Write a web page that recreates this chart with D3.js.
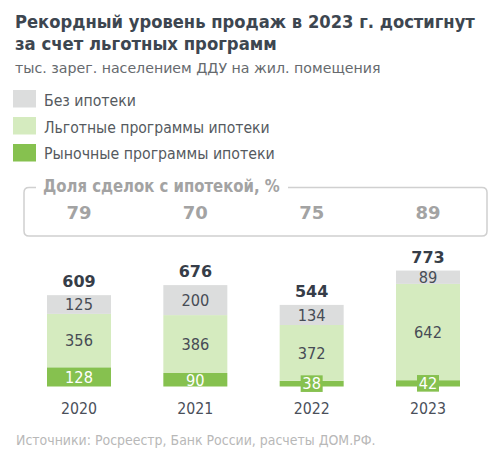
<!DOCTYPE html>
<html><head><meta charset="utf-8">
<script src="https://cdn.jsdelivr.net/npm/d3@7"></script>
<style>
html,body{margin:0;padding:0;background:#fff;}
svg{display:block;font-family:"DejaVu Sans",sans-serif;}
</style></head>
<body>
<svg id="c" width="499" height="466"></svg>
<script>
const years = ['2020','2021','2022','2023'];
const market = [128, 90, 38, 42];
const preferential = [356, 386, 372, 642];
const noMortgage = [125, 200, 134, 89];
const totals = [609, 676, 544, 773];
const mortgageShare = [79, 70, 75, 89];
const legendLabels = ['Без ипотеки','Льготные программы ипотеки','Рыночные программы ипотеки'];
const titleLines = ['Рекордный уровень продаж в 2023 г. достигнут','за счет льготных программ'];
const subtitle = 'тыс. зарег. населением ДДУ на жил. помещения';
const boxTitle = 'Доля сделок с ипотекой, %';
const source = 'Источники: Росреестр, Банк России, расчеты ДОМ.РФ.';

const colors = {no:'#dcdddd', pref:'#d5ebbf', market:'#86c14f'};
const svg = d3.select('#c');

// Add a text at (x,y) inside a group; compress it horizontally (scaleX) to width w if it is wider,
// otherwise enlarge font to reach w. anchor: 'start' | 'middle'
function label(parent, x, y, txt, fs, w, attrs, anchor){
  const gg = parent.append('g').attr('transform', `translate(${x},${y})`);
  const t = gg.append('text').attr('x',0).attr('y',0).attr('font-size',fs).text(txt)
    .attr('text-anchor', anchor||'start');
  Object.entries(attrs||{}).forEach(([k,v])=>t.attr(k,v));
  const cur = t.node().getComputedTextLength();
  if (cur > w) gg.attr('transform', `translate(${x},${y}) scale(${(w/cur).toFixed(4)},1)`);
  else t.attr('font-size', (fs*w/cur).toFixed(2));
  return t;
}

// Title
const tW = [460, 262];
titleLines.forEach((t,i)=>{
  label(svg, 15, 28+i*22, t, 18.5, tW[i], {'font-weight':'bold', fill:'#3d4650'});
});
label(svg, 15, 73, subtitle, 14.5, 366, {fill:'#666a6e'});

// Legend
const legCols = [colors.no, colors.pref, colors.market];
const legW = [92, 226, 231];
legendLabels.forEach((l,i)=>{
  svg.append('rect').attr('x',13).attr('y',90+i*27).attr('width',23).attr('height',17.5).attr('fill',legCols[i]);
  label(svg, 44, 106+i*26.7, l, 15.5, legW[i], {fill:'#555a60'});
});

// Scales
const x = d3.scalePoint().domain(years).range([79, 428]);
const y = d3.scaleLinear().domain([0, 800]).range([386.5, 386.5 - 120]);
const bw = 64;

// Share box
svg.append('path')
  .attr('d', (()=>{
    const x0=24,x1=487,y0=187.5,y1=236,r=5, gapA=36, gapB=288;
    return `M${gapA},${y0} L${x0+r},${y0} Q${x0},${y0} ${x0},${y0+r} L${x0},${y1-r} Q${x0},${y1} ${x0+r},${y1} L${x1-r},${y1} Q${x1},${y1} ${x1},${y1-r} L${x1},${y0+r} Q${x1},${y0} ${x1-r},${y0} L${gapB},${y0}`;
  })())
  .attr('fill','none').attr('stroke','#d0d0d0').attr('stroke-width',1.5);
label(svg, 43, 192, boxTitle, 17, 237, {'font-weight':'bold', fill:'#a3a3a3'});
svg.selectAll('.share').data(years).enter().append('text')
  .attr('x',d=>x(d)).attr('y',219).attr('text-anchor','middle')
  .attr('font-size',18).attr('font-weight','bold').attr('fill','#a3a3a3')
  .text((d,i)=>mortgageShare[i]);

// Stacked bars
const stackData = years.map((yr,i)=>({year:yr, market:market[i], pref:preferential[i], no:noMortgage[i]}));
const keys = ['market','pref','no'];
const series = d3.stack().keys(keys)(stackData);
const g = svg.append('g');
series.forEach(s=>{
  g.selectAll(null).data(s).enter().append('rect')
    .attr('x',d=>x(d.data.year)-bw/2).attr('width',bw)
    .attr('y',d=>y(d[1])).attr('height',d=>y(d[0])-y(d[1]))
    .attr('fill',colors[s.key]);
});

// Segment labels
series.forEach(s=>{
  s.forEach(d=>{
    const v = d.data[s.key];
    const cx = x(d.data.year);
    const cy = (y(d[0])+y(d[1]))/2;
    const h = y(d[0])-y(d[1]);
    if (s.key==='market' && h < 12){
      g.append('rect').attr('x',cx-11).attr('y',cy-8.3).attr('width',22).attr('height',16.6).attr('fill',colors.market);
    }
    label(g, cx, cy+5.8, String(v), 16, String(v).length*9.3,
      {fill: s.key==='market' ? '#ffffff' : '#474c55'}, 'middle');
  });
});

// Totals
svg.selectAll('.tot').data(years).enter().append('text')
  .attr('x',d=>x(d)).attr('y',(d,i)=>y(totals[i])-8).attr('text-anchor','middle')
  .attr('font-size',16).attr('font-weight','bold').attr('fill','#363d48')
  .text((d,i)=>totals[i]);

// X axis labels
const xAxis = d3.axisBottom(x).tickSize(0).tickPadding(0);
const ax = svg.append('g').attr('transform','translate(0,402.5)').call(xAxis);
ax.select('.domain').remove();
ax.selectAll('text').attr('font-size',16.5).attr('fill','#4a4f5a').attr('dy','0.71em')
  .attr('font-family','"DejaVu Sans",sans-serif')
  .attr('transform','scale(0.86,1)')
  .attr('x', 0);
ax.selectAll('.tick').each(function(d){
  const tx = x(d);
  d3.select(this).attr('transform', `translate(${tx},0)`);
});

// Source
label(svg, 16, 445, source, 13.5, 360, {fill:'#b8b8b8'});
</script>
</body></html>
